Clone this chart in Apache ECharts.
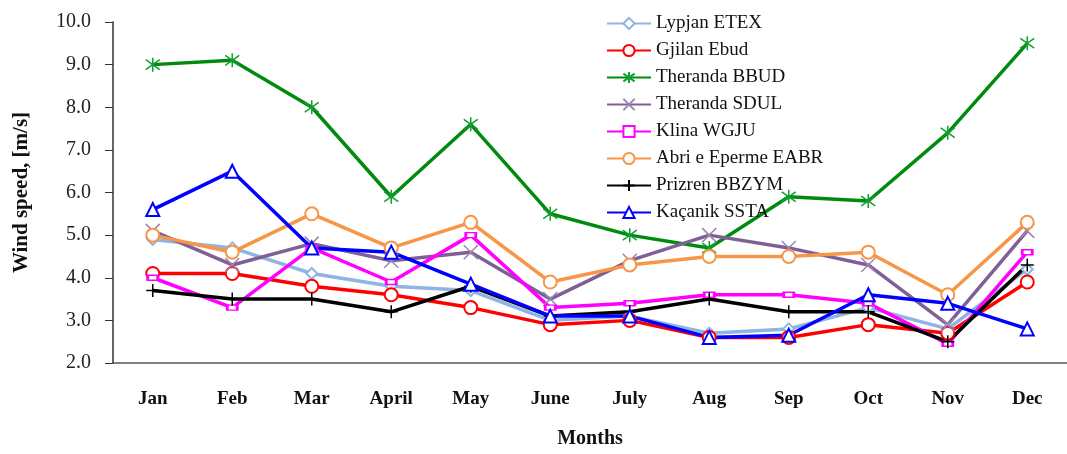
<!DOCTYPE html>
<html>
<head>
<meta charset="utf-8">
<style>
  html, body { margin: 0; padding: 0; background: #fff; }
  .chart { width: 1067px; height: 454px; }
</style>
<script src="https://cdn.jsdelivr.net/npm/echarts@6/dist/echarts.min.js"></script>
</head>
<body>
<div class="line1"><div class="chart"></div></div>
<script>
// 数据
var months = ['Jan', 'Feb', 'Mar', 'April', 'May', 'June', 'July', 'Aug', 'Sep', 'Oct', 'Nov', 'Dec'];
var seriesNames = ['Lypjan ETEX', 'Gjilan Ebud', 'Theranda BBUD', 'Theranda SDUL', 'Klina WGJU', 'Abri e Eperme EABR', 'Prizren BBZYM', 'Kaçanik SSTA'];
var lypjan = [4.9, 4.7, 4.1, 3.8, 3.7, 3.0, 3.1, 2.7, 2.8, 3.3, 2.8, 4.2];
var gjilan = [4.1, 4.1, 3.8, 3.6, 3.3, 2.9, 3.0, 2.6, 2.6, 2.9, 2.7, 3.9];
var therandaB = [9.0, 9.1, 8.0, 5.9, 7.6, 5.5, 5.0, 4.7, 5.9, 5.8, 7.4, 9.5];
var therandaS = [5.1, 4.3, 4.8, 4.4, 4.6, 3.5, 4.4, 5.0, 4.7, 4.3, 2.9, 5.1];
var klina = [4.0, 3.3, 4.7, 3.9, 5.0, 3.3, 3.4, 3.6, 3.6, 3.4, 2.45, 4.6];
var abri = [5.0, 4.6, 5.5, 4.7, 5.3, 3.9, 4.3, 4.5, 4.5, 4.6, 3.6, 5.3];
var prizren = [3.7, 3.5, 3.5, 3.2, 3.8, 3.1, 3.2, 3.5, 3.2, 3.2, 2.5, 4.3];
var kacanik = [5.6, 6.5, 4.7, 4.6, 3.85, 3.1, 3.1, 2.6, 2.65, 3.6, 3.4, 2.8];

(function () {
  var myChart = echarts.init(document.querySelector('.line1 .chart'));
  var serif = '"Liberation Serif", "DejaVu Serif", serif';

  // 每条线的样式
  function mk(name, data, color, symbol, size, markColor) {
    return {
      name: name,
      type: 'line',
      data: data,
      symbol: symbol,
      symbolSize: size,
      showAllSymbol: true,
      lineStyle: { color: color, width: 3.5 },
      itemStyle: {
        color: markColor || color,
        borderColor: markColor || color,
        borderWidth: 1.5
      }
    };
  }

  var option = {
    animation: false,
    grid: {
      left: 113,
      right: -7,
      top: 22,
      bottom: 88
    },
    legend: {
      orient: 'vertical',
      left: 601,
      top: 9,
      itemWidth: 44,
      itemHeight: 14,
      itemGap: 8,
      data: seriesNames,
      textStyle: {
        fontFamily: serif,
        fontSize: 19,
        lineHeight: 19,
        color: '#111'
      }
    },
    xAxis: {
      type: 'category',
      data: months,
      name: 'Months',
      nameLocation: 'middle',
      nameGap: 66,
      nameTextStyle: {
        fontFamily: serif,
        fontWeight: 'bold',
        fontSize: 20,
        color: '#111'
      },
      axisTick: { show: false },
      axisLine: { lineStyle: { color: '#555', width: 1.5 } },
      axisLabel: {
        fontFamily: serif,
        fontWeight: 'bold',
        fontSize: 19,
        color: '#111',
        margin: 27
      }
    },
    yAxis: {
      type: 'value',
      min: 2,
      max: 10,
      interval: 1,
      name: 'Wind speed, [m/s]',
      nameLocation: 'middle',
      nameGap: 81,
      nameTextStyle: {
        fontFamily: serif,
        fontWeight: 'bold',
        fontSize: 21,
        color: '#111'
      },
      axisLine: { show: true, lineStyle: { color: '#333', width: 1.5 } },
      axisTick: { show: true, inside: false, length: 8, lineStyle: { color: '#333' } },
      splitLine: { show: false },
      axisLabel: {
        fontFamily: serif,
        fontSize: 20,
        color: '#222',
        margin: 22,
        formatter: function (v) { return v.toFixed(1); }
      }
    },
    series: [
      mk(seriesNames[0], lypjan, '#8db4e2', 'emptyDiamond', 11),
      mk(seriesNames[1], gjilan, '#ff0000', 'emptyCircle', 13),
      mk(seriesNames[2], therandaB, '#008a0e', 'path://M5,0L5,10M1,1.5L9,8.5M9,1.5L1,8.5', 14, '#10a030'),
      mk(seriesNames[3], therandaS, '#7f5f96', 'path://M0,0L10,10M10,0L0,10', 14, '#9a85b0'),
      mk(seriesNames[4], klina, '#ff00ff', 'emptyRect', [10, 5]),
      mk(seriesNames[5], abri, '#f79646', 'emptyCircle', 13),
      mk(seriesNames[6], prizren, '#000000', 'path://M5,0L5,10M0,5L10,5', 13),
      mk(seriesNames[7], kacanik, '#0000ff', 'emptyTriangle', 13)
    ]
  };

  myChart.setOption(option);
  window.addEventListener('resize', function () {
    myChart.resize();
  })
})();
</script>
</body>
</html>
